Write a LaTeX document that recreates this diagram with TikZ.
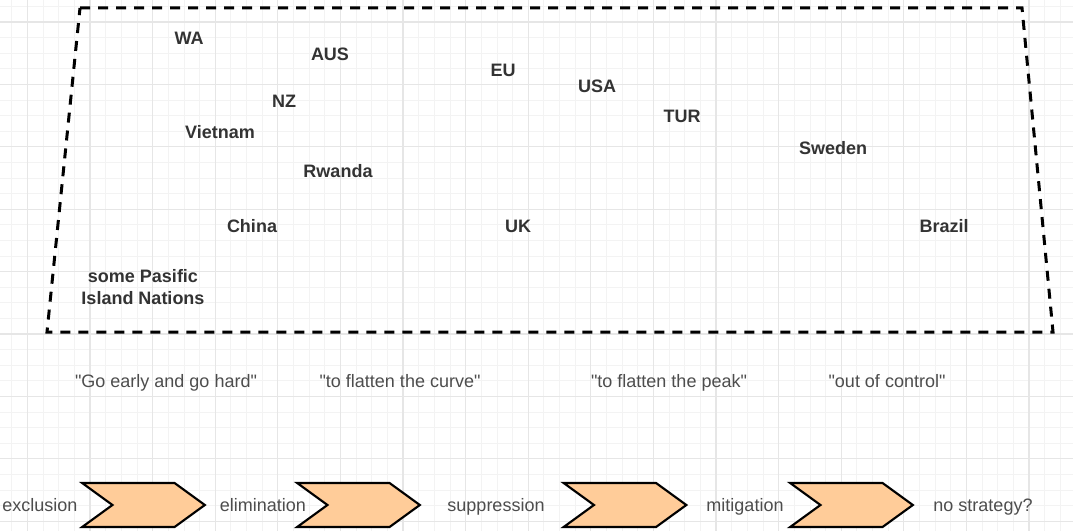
\documentclass[tikz,border=0pt]{standalone}
\usepackage{fontspec}
\setmainfont{Liberation Sans}[Ligatures=TeXOff]
\usetikzlibrary{positioning,shapes.symbols}

\definecolor{peach}{HTML}{FFCC99}
\definecolor{gridmin}{HTML}{F3F3F3}
\definecolor{gridmaj}{HTML}{E6E6E6}
\definecolor{ink}{HTML}{333333}
\definecolor{quoteink}{HTML}{4D4D4D}

\newcommand{\dq}{\char34\relax}

\begin{document}
\begin{tikzpicture}[
  x=0.75pt, y=-0.75pt,
  font=\fontsize{13.5}{16}\selectfont,
  country/.style={text=ink, font=\fontsize{13.5}{16}\selectfont\bfseries, align=center, inner sep=1pt},
  quote/.style={text=quoteink, inner sep=1pt, text height=10pt, text depth=3pt},
  stage/.style={text=quoteink, inner sep=1pt, text height=10pt, text depth=3pt},
  chev/.style={signal, signal from=west, signal to=east, signal pointer angle=72,
               draw=black, line width=1.6pt, fill=peach, inner sep=0pt,
               minimum width=92pt, minimum height=33pt},
  gridminor/.style={gridmin, line width=0.6pt},
  gridmajor/.style={gridmaj, line width=0.8pt},
  zone/.style={draw=black, line width=2.25pt, dash pattern=on 7.5pt off 6pt},
]
\useasboundingbox (0,0) rectangle (1073,531);
\fill[white] (0,0) rectangle (1073,531);

% background grid
\foreach \i in {0,...,69} \draw[gridminor] ({-3.9+15.65*\i},0) -- ({-3.9+15.65*\i},531);
\foreach \j in {0,...,34} \draw[gridminor] (0,{6.4+15.6*\j}) -- (1073,{6.4+15.6*\j});
\foreach \i in {0,...,17} \draw[gridmajor] ({27.4+62.6*\i},0) -- ({27.4+62.6*\i},531);
\foreach \j in {0,...,8} \draw[gridmajor] (0,{22+62.4*\j}) -- (1073,{22+62.4*\j});

% dashed zone
\draw[zone] (80,8) -- (1022,8) -- (1053,332) -- (47,332) -- cycle;

% countries
\node[country] (wa) at (189,38) {WA};
\node[country] (aus) at (330,54) {AUS};
\node[country] (eu) at (503,70) {EU};
\node[country] (usa) at (597,86) {USA};
\node[country] (nz) at (284,101) {NZ};
\node[country] (tur) at (682,116) {TUR};
\node[country] (vietnam) at (220,132) {Vietnam};
\node[country] (sweden) at (833,148) {Sweden};
\node[country] (rwanda) at (338,171) {Rwanda};
\node[country] (china) at (252,226) {China};
\node[country] (uk) at (518,226) {UK};
\node[country] (brazil) at (944,226) {Brazil};
\node[country] (pacific) at (143,287) {some Pasific\\Island Nations};

% slogans
\node[quote] (early) at (166,383) {\dq Go early and go hard\dq};
\node[quote] (curve) at (400,383) {\dq to flatten the curve\dq};
\node[quote] (peak) at (669,383) {\dq to flatten the peak\dq};
\node[quote] (ooc) at (887,383) {\dq out of control\dq};

% strategy chevrons
\node[chev] (ch1) at (143.5,505) {};
\node[chev] (ch2) at (358.5,505) {};
\node[chev] (ch3) at (625,505) {};
\node[chev] (ch4) at (851.5,505) {};

\node[stage] (exclusion) at (40,507) {exclusion};
\node[stage] (elimination) at (263,507) {elimination};
\node[stage] (suppression) at (496,507) {suppression};
\node[stage] (mitigation) at (745,507) {mitigation};
\node[stage] (nostrategy) at (983,507) {no strategy?};
\end{tikzpicture}
\end{document}
